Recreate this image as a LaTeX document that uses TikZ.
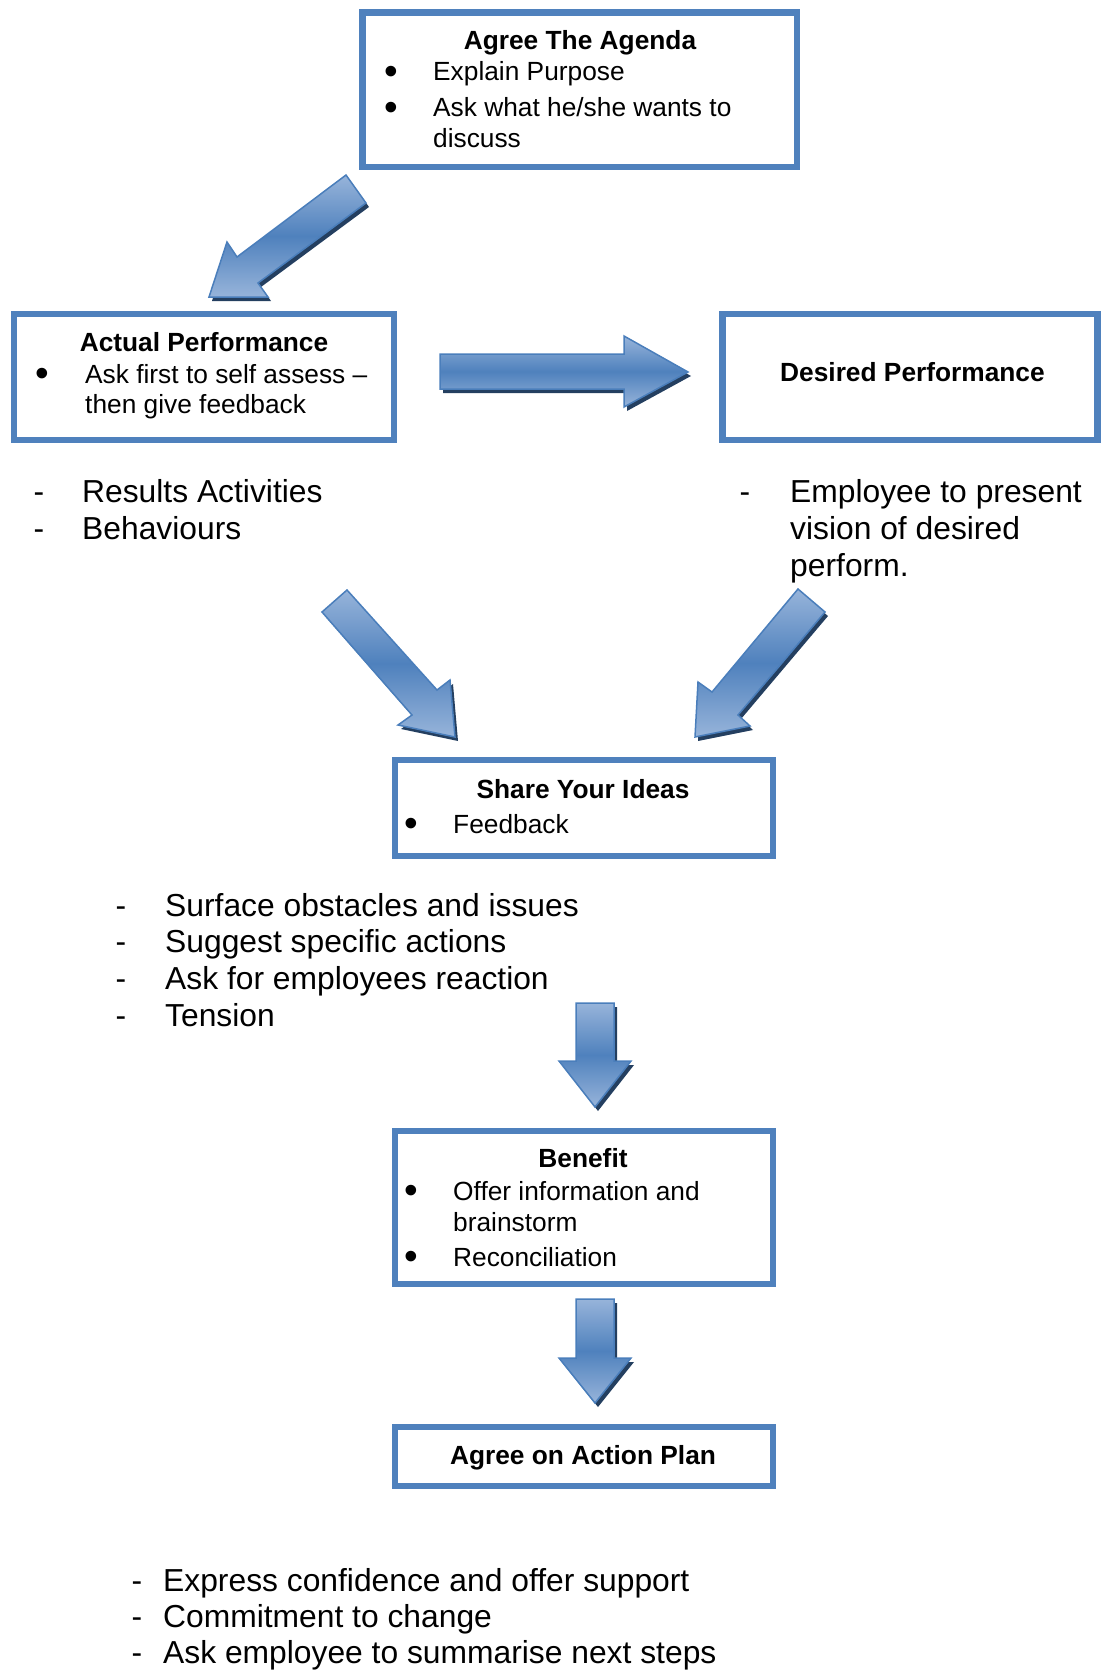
\documentclass[tikz,border=0pt]{standalone}
\usepackage{fontspec}
\setmainfont{Liberation Sans}
\usetikzlibrary{positioning}
\definecolor{boxblue}{HTML}{4F81BD}
\definecolor{arrlight}{HTML}{97B4DA}
\definecolor{arrline}{HTML}{4A7EBB}
\definecolor{arrshadow}{HTML}{243F60}

\begin{document}
\begin{tikzpicture}[x=1pt, y=-1pt,
    box/.style={draw=boxblue, line width=6.5pt, rectangle, inner sep=0pt},
    title/.style={font=\bfseries\fontsize{26.3}{31}\selectfont, inner sep=0pt, anchor=base},
    item/.style={font=\fontsize{26.3}{31}\selectfont, inner sep=0pt, anchor=base west},
    bul/.style={font=\fontsize{39}{31}\selectfont, inner sep=0pt, anchor=base, yshift=-3.5pt},
    note/.style={font=\fontsize{31.8}{37}\selectfont, inner sep=0pt, anchor=base west},
    hyph/.style={font=\fontsize{31.8}{37}\selectfont, inner sep=0pt, anchor=base},
    blockarrow/.style={draw=arrline, line width=1.5pt, line join=miter, top color=arrlight, bottom color=arrlight, middle color=boxblue},
    arrowshadow/.style={fill=arrshadow, shift={(3,4)}}]
        \useasboundingbox (0,0) rectangle (1101,1670);

        % Boxes
        \node[box, minimum width=434.5pt, minimum height=154.7pt] (agenda) at (579.75,89.65) {};
        \node[box, minimum width=380pt, minimum height=126pt] (actual) at (204,377) {};
        \node[box, minimum width=375.25pt, minimum height=126pt] (desired) at (910.1,377) {};
        \node[box, minimum width=378pt, minimum height=96pt] (share) at (584,808) {};
        \node[box, minimum width=378pt, minimum height=153pt] (benefit) at (584,1207.5) {};
        \node[box, minimum width=378pt, minimum height=59pt] (action) at (584,1456.5) {};

        % Agree The Agenda
        \node[title] (agendaT) at (580,49.8) {Agree The Agenda};
        \node[bul] (agendaB1) at (391,81) {\textbullet};
        \node[item] (agenda1) at (433,81) {Explain Purpose};
        \node[bul] (agendaB2) at (391,116.7) {\textbullet};
        \node[item] (agenda2) at (433,116.7) {Ask what he/she wants to};
        \node[item] (agenda2b) at (433,147.3) {discuss};

        % Actual Performance
        \node[title] (actualT) at (204,351.7) {Actual Performance};
        \node[bul] (actualB1) at (42,383.3) {\textbullet};
        \node[item] (actual1) at (85,383.3) {Ask first to self assess –};
        \node[item] (actual1b) at (85,413) {then give feedback};

        % Desired Performance
        \node[title] (desiredT) at (912.5,381.7) {Desired Performance};

        % Share Your Ideas
        \node[title] (shareT) at (583,798) {Share Your Ideas};
        \node[bul] (shareB1) at (411,833) {\textbullet};
        \node[item] (share1) at (453,833) {Feedback};

        % Benefit
        \node[title] (benefitT) at (583,1167.5) {Benefit};
        \node[bul] (benefitB1) at (411,1200) {\textbullet};
        \node[item] (benefit1) at (453,1200) {Offer information and};
        \node[item] (benefit1b) at (453,1231) {brainstorm};
        \node[bul] (benefitB2) at (411,1266) {\textbullet};
        \node[item] (benefit2) at (453,1266) {Reconciliation};

        % Agree on Action Plan
        \node[title] (actionT) at (583,1464) {Agree on Action Plan};

        % Notes under the boxes
        \node[hyph] (actualD1) at (39,502) {-};
        \node[note] (actualN1) at (82,502) {Results Activities};
        \node[hyph] (actualD2) at (39,539) {-};
        \node[note] (actualN2) at (82,539) {Behaviours};

        \node[hyph] (desiredD1) at (745,502) {-};
        \node[note] (desiredN1) at (790,502) {Employee to present};
        \node[note] (desiredN1b) at (790,539) {vision of desired};
        \node[note] (desiredN1c) at (790,576) {perform.};

        \node[hyph] (shareD1) at (121,916) {-};
        \node[note] (shareN1) at (165,916) {Surface obstacles and issues};
        \node[hyph] (shareD2) at (121,952.5) {-};
        \node[note] (shareN2) at (165,952.5) {Suggest specific actions};
        \node[hyph] (shareD3) at (121,989) {-};
        \node[note] (shareN3) at (165,989) {Ask for employees reaction};
        \node[hyph] (shareD4) at (121,1026) {-};
        \node[note] (shareN4) at (165,1026) {Tension};

        \node[hyph] (actionD1) at (137,1591) {-};
        \node[note] (actionN1) at (163,1591) {Express confidence and offer support};
        \node[hyph] (actionD2) at (137,1627) {-};
        \node[note] (actionN2) at (163,1627) {Commitment to change};
        \node[hyph] (actionD3) at (137,1663) {-};
        \node[note] (actionN3) at (163,1663) {Ask employee to summarise next steps};

        % Block arrows: shadow first, then the shaded arrow
        \fill[arrowshadow] (346,175) -- (237,257) -- (227,242) -- (209,297) -- (268,297) -- (258,283) -- (366,203) -- cycle;
        \path[blockarrow] (346,175) -- (237,257) -- (227,242) -- (209,297) -- (268,297) -- (258,283) -- (366,203) -- cycle;

        \fill[arrowshadow] (440,354) -- (624,354) -- (624,336) -- (688,372) -- (624,407) -- (624,389) -- (440,389) -- cycle;
        \path[blockarrow] (440,354) -- (624,354) -- (624,336) -- (688,372) -- (624,407) -- (624,389) -- (440,389) -- cycle;

        \fill[arrowshadow] (347,590) -- (437,690) -- (450,680) -- (455,737) -- (398,725) -- (412,715) -- (322,612) -- cycle;
        \path[blockarrow] (347,590) -- (437,690) -- (450,680) -- (455,737) -- (398,725) -- (412,715) -- (322,612) -- cycle;

        \fill[arrowshadow] (798,589) -- (712,692) -- (698,682) -- (695,737) -- (750,726) -- (738,715) -- (825,612) -- cycle;
        \path[blockarrow] (798,589) -- (712,692) -- (698,682) -- (695,737) -- (750,726) -- (738,715) -- (825,612) -- cycle;

        \fill[arrowshadow] (576,1003) -- (614,1003) -- (614,1061) -- (631,1061) -- (595,1107) -- (559,1061) -- (576,1061) -- cycle;
        \path[blockarrow] (576,1003) -- (614,1003) -- (614,1061) -- (631,1061) -- (595,1107) -- (559,1061) -- (576,1061) -- cycle;

        \fill[arrowshadow] (576,1299) -- (614,1299) -- (614,1358) -- (631,1358) -- (595,1403) -- (559,1358) -- (576,1358) -- cycle;
        \path[blockarrow] (576,1299) -- (614,1299) -- (614,1358) -- (631,1358) -- (595,1403) -- (559,1358) -- (576,1358) -- cycle;
    \end{tikzpicture}
\end{document}
